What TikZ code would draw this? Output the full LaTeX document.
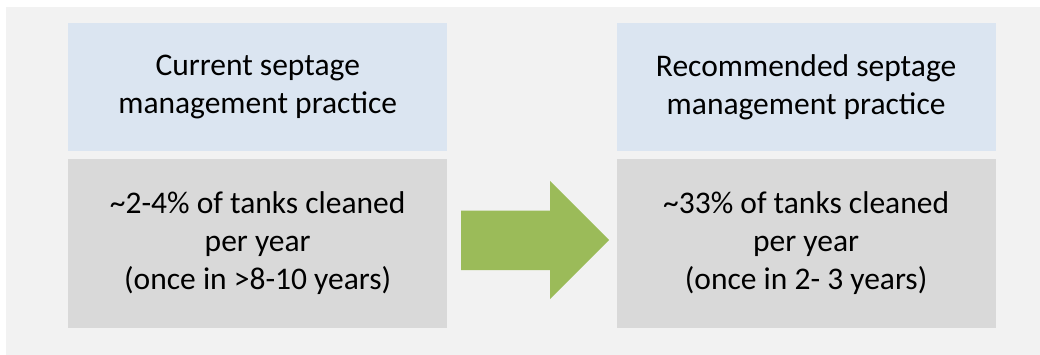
\documentclass[tikz,border=0pt]{standalone}
\usepackage{fontspec}
\setmainfont{Carlito}
\usepackage{xcolor}
\usepackage{tikz}
\usetikzlibrary{positioning}

\definecolor{bgGray}{HTML}{F2F2F2}
\definecolor{headBlue}{HTML}{DBE5F1}
\definecolor{bodyGray}{HTML}{D9D9D9}
\definecolor{arrowGreen}{HTML}{9BBB59}

\begin{document}
\begin{tikzpicture}[x=1pt, y=-1pt,
	every node/.style={inner sep=0pt, align=center, font=\fontsize{31.5}{38}\selectfont},
	headbox/.style={fill=headBlue, minimum width=379pt, minimum height=128pt},
	bodybox/.style={fill=bodyGray, minimum width=379pt, minimum height=169pt}]
	\useasboundingbox (0,0) rectangle (1040,355);
	\fill[bgGray] (6,7) rectangle (1040,355);
	% left column
	\node[headbox, anchor=north west] (curHead) at (68,23) {Current septage\\management practice};
	\node[bodybox, below=7pt of curHead] (curBody) {\textasciitilde2-4\% of tanks cleaned\\per year\\(once in >8-10 years)};
	% right column
	\node[headbox, right=169pt of curHead] (recHead) {Recommended septage\\management practice};
	\node[bodybox, below=7pt of recHead] (recBody) {\textasciitilde33\% of tanks cleaned\\per year\\(once in 2- 3 years)};
	% block arrow
	\fill[arrowGreen] (461,210.7) -- (550,210.7) -- (550,181) -- (609,240) -- (550,299)
	  -- (550,270) -- (461,270) -- cycle;
\end{tikzpicture}
\end{document}
